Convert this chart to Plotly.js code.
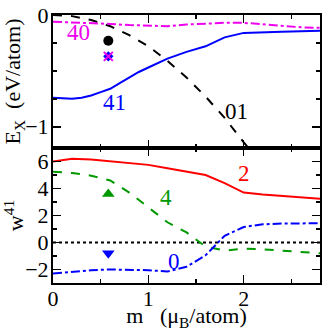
<!DOCTYPE html>
<html><head><meta charset="utf-8">
<script src="https://cdn.plot.ly/plotly-3.0.1.min.js"></script>
<style>body{margin:0}#c{width:332px;height:331px}</style>
</head><body><div id="c"></div>
<script>
// Top panel: E_X (eV/atom) vs m
const m01 = [0, 0.2, 0.4, 0.6, 0.8, 1.0, 1.2, 1.4, 1.6, 1.8, 2.0, 2.05];
const e01 = [0, -0.01, -0.045, -0.1, -0.18, -0.28, -0.41, -0.56, -0.73, -0.92, -1.14, -1.19];
const m40 = [0, 0.2, 0.4, 0.6, 0.8, 1.0, 1.2, 1.4, 1.6, 1.8, 2.0, 2.2, 2.4, 2.6, 2.8];
const e40 = [-0.06, -0.065, -0.07, -0.08, -0.09, -0.095, -0.1, -0.085, -0.075, -0.07, -0.07, -0.085, -0.1, -0.11, -0.115];
const m41 = [0, 0.1, 0.2, 0.3, 0.4, 0.5, 0.6, 0.7, 0.8, 0.9, 1.0, 1.2, 1.4, 1.6, 1.8, 2.0, 2.4, 2.8];
const e41 = [-0.74, -0.745, -0.75, -0.74, -0.72, -0.69, -0.66, -0.61, -0.56, -0.51, -0.47, -0.39, -0.33, -0.28, -0.2, -0.16, -0.15, -0.14];
const ptCircle = {m: 0.58, e: -0.23};
const ptCross = {m: 0.58, e: -0.37};

// Bottom panel: w^41 vs m
const mw = [0, 0.2, 0.4, 0.6, 0.8, 1.0, 1.2, 1.4, 1.6, 1.8, 2.0, 2.2, 2.4, 2.6, 2.8];
const w2 = [6.0, 6.2, 6.15, 6.0, 5.9, 5.75, 5.5, 5.25, 5.0, 4.4, 3.7, 3.55, 3.45, 3.35, 3.25];
const w4 = [5.25, 5.15, 4.95, 4.6, 3.7, 2.6, 1.5, 0.75, -0.3, -0.6, -0.45, -0.5, -0.6, -0.7, -0.8];
const w0 = [-2.3, -2.15, -2.05, -2.0, -2.0, -2.05, -2.15, -1.8, -0.95, 0.5, 1.15, 1.35, 1.4, 1.42, 1.43];
const ptUp = {m: 0.58, w: 3.6};
const ptDown = {m: 0.58, w: -0.8};

const FAM = "Liberation Serif, Times New Roman, serif";
const font = {family: FAM, size: 22, color: 'black'};
const traces = [
  {x: m01, y: e01, xaxis: 'x2', yaxis: 'y2', mode: 'lines', line: {color: 'black', width: 2, dash: 'dash'}},
  {x: m40, y: e40, xaxis: 'x2', yaxis: 'y2', mode: 'lines', line: {color: '#ee00ee', width: 2, dash: 'dashdot'}},
  {x: m41, y: e41, xaxis: 'x2', yaxis: 'y2', mode: 'lines', line: {color: '#0000ff', width: 2}},
  {x: [ptCircle.m], y: [ptCircle.e], xaxis: 'x2', yaxis: 'y2', mode: 'markers', marker: {color: 'black', size: 10, symbol: 'circle'}},
  {x: [ptCross.m], y: [ptCross.e], xaxis: 'x2', yaxis: 'y2', mode: 'markers', marker: {color: '#0000ff', size: 8, symbol: 'diamond'}},
  {x: [ptCross.m], y: [ptCross.e], xaxis: 'x2', yaxis: 'y2', mode: 'markers', marker: {color: '#ee00ee', size: 9, symbol: 'x-thin', line: {color: '#ee00ee', width: 2}}},
  {x: [0, 2.8], y: [0, 0], mode: 'lines', line: {color: 'black', width: 2, dash: 'dot'}},
  {x: mw, y: w2, mode: 'lines', line: {color: '#ff0000', width: 2}},
  {x: mw, y: w4, mode: 'lines', line: {color: '#009900', width: 2, dash: 'dash'}},
  {x: mw, y: w0, mode: 'lines', line: {color: '#0000ff', width: 2, dash: 'dashdot'}},
  {x: [ptUp.m], y: [ptUp.w], mode: 'markers', marker: {color: '#009900', size: 11, symbol: 'triangle-up'}},
  {x: [ptDown.m], y: [ptDown.w], mode: 'markers', marker: {color: '#0000ff', size: 11, symbol: 'triangle-down'}}
];
function ax(extra) {
  return Object.assign({showgrid: false, zeroline: false, showline: true, linecolor: 'black', linewidth: 2, mirror: 'allticks',
    ticks: 'inside', ticklen: 8, tickwidth: 1.5, tickcolor: 'black',
    tickfont: {family: FAM, size: 22, color: 'black'}}, extra);
}
const minor = (d) => ({dtick: d, ticks: 'inside', ticklen: 4, tickwidth: 1.5, tickcolor: 'black', showgrid: false});
const tf = {family: FAM, size: 22, color: 'black'};
const lf = (c) => ({family: FAM, size: 23, color: c});
const layout = {
  width: 332, height: 331, showlegend: false,
  margin: {l: 53, r: 12, t: 15, b: 48},
  paper_bgcolor: 'white', plot_bgcolor: 'white', font: font,
  xaxis: ax({range: [0, 2.8], dtick: 1, tick0: 0, minor: minor(0.5), anchor: 'y', ticklabelstandoff: -5,
    title: {text: 'm   (μ<sub>B</sub>/atom)', font: tf, standoff: 3}}),
  yaxis: ax({domain: [0, 0.5037], range: [-3, 7], tickvals: [-2, 0, 2, 4, 6], minor: minor(1), ticklabelstandoff: -2,
    title: {text: 'w<sup>41</sup>', font: tf, standoff: 0}}),
  xaxis2: ax({range: [0, 2.8], dtick: 1, tick0: 0, minor: minor(0.5), anchor: 'y2', matches: 'x', showticklabels: false}),
  yaxis2: ax({domain: [0.5037, 1], range: [-1.19, 0], tickvals: [-1, 0], minor: minor(0.25), ticklabelstandoff: -2,
    title: {text: 'E<sub>X</sub>  (eV/atom)', font: tf, standoff: 4}}),
  annotations: [
    {x: 0.27, y: -0.16, xref: 'x2', yref: 'y2', text: '40', showarrow: false, font: lf('#ee00ee')},
    {x: 0.65, y: -0.78, xref: 'x2', yref: 'y2', text: '41', showarrow: false, font: lf('#0000ff')},
    {x: 1.92, y: -0.86, xref: 'x2', yref: 'y2', text: '01', showarrow: false, font: lf('black')},
    {x: 2.0, y: 5.1, xref: 'x', yref: 'y', text: '2', showarrow: false, font: lf('#ff0000')},
    {x: 1.18, y: 3.3, xref: 'x', yref: 'y', text: '4', showarrow: false, font: lf('#009900')},
    {x: 1.27, y: -1.4, xref: 'x', yref: 'y', text: '0', showarrow: false, font: lf('#0000ff')}
  ]
};
Plotly.newPlot('c', traces, layout, {staticPlot: true, displayModeBar: false});
</script></body></html>
